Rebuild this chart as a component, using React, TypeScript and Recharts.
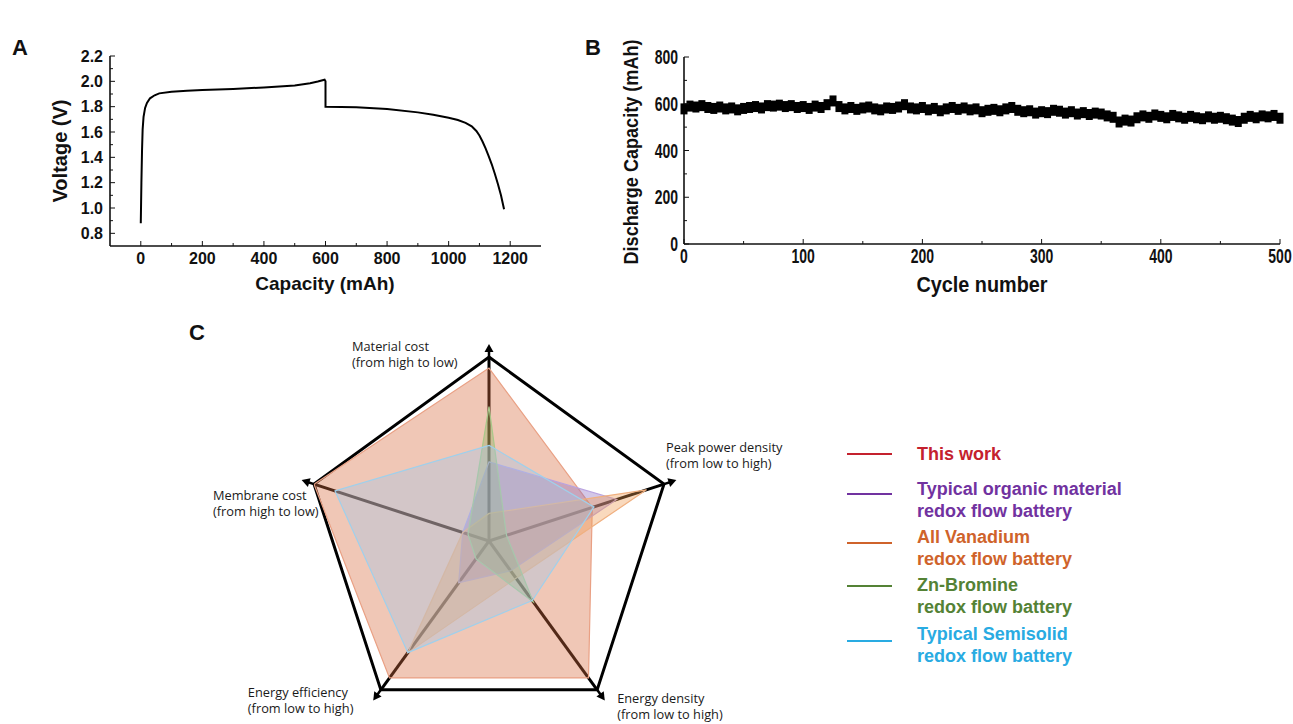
import {
  Line,
  LineChart,
  PolarAngleAxis,
  PolarGrid,
  PolarRadiusAxis,
  Radar,
  RadarChart,
  Scatter,
  ScatterChart,
  XAxis,
  YAxis,
} from 'recharts'

// ---- panel A: charge / discharge curve ----
const capacityMah = [
  0, 2, 4, 6, 9, 14, 20, 30, 45, 60, 100, 150, 200, 300, 400, 450, 500, 550, 575, 597, 600, 600, 650, 700,
  800, 900, 950, 1000, 1030, 1055, 1075, 1090, 1100, 1110, 1120, 1130, 1140, 1150, 1160, 1170, 1180,
]
const voltageV = [
  0.88, 1.2, 1.45, 1.62, 1.72, 1.79, 1.83, 1.866, 1.89, 1.905, 1.918, 1.925, 1.932, 1.94, 1.952, 1.96, 1.968,
  1.985, 1.998, 2.013, 2.0, 1.8, 1.797, 1.795, 1.782, 1.755, 1.737, 1.712, 1.695, 1.672, 1.645, 1.608, 1.572,
  1.525, 1.47, 1.41, 1.345, 1.27, 1.19, 1.1, 0.99,
]
const capacityTicks = [0, 200, 400, 600, 800, 1000, 1200]
const capacityMinorTicks = [100, 300, 500, 700, 900, 1100]
const voltageTicks = [0.8, 1.0, 1.2, 1.4, 1.6, 1.8, 2.0, 2.2]
const voltageMinorTicks = [0.9, 1.1, 1.3, 1.5, 1.7, 1.9, 2.1]

// ---- panel B: cycling ----
const cycles = [
  0, 5, 10, 15, 20, 25, 30, 35, 40, 45, 50, 55, 60, 65, 70, 75, 80, 85, 90, 95, 100, 105, 110, 115, 120, 125,
  130, 135, 140, 145, 150, 155, 160, 165, 170, 175, 180, 185, 190, 195, 200, 205, 210, 215, 220, 225, 230, 235,
  240, 245, 250, 255, 260, 265, 270, 275, 280, 285, 290, 295, 300, 305, 310, 315, 320, 325, 330, 335, 340, 345,
  350, 355, 360, 365, 370, 375, 380, 385, 390, 395, 400, 405, 410, 415, 420, 425, 430, 435, 440, 445, 450, 455,
  460, 465, 470, 475, 480, 485, 490, 495, 500,
]
const dischargeMah = [
  578, 590, 586, 592, 584, 580, 586, 578, 582, 574, 580, 584, 588, 582, 592, 590, 594, 588, 592, 584, 588, 580,
  590, 584, 596, 612, 588, 578, 584, 576, 582, 586, 578, 574, 582, 580, 586, 596, 582, 578, 584, 574, 580, 570,
  578, 584, 576, 582, 574, 578, 566, 572, 576, 570, 578, 584, 572, 566, 570, 560, 566, 562, 572, 568, 560, 566,
  556, 562, 554, 560, 556, 548, 542, 522, 530, 526, 540, 548, 542, 552, 546, 540, 550, 544, 538, 546, 540, 536,
  544, 538, 542, 536, 530, 524, 538, 546, 540, 548, 544, 550, 538,
]
const cycleTicks = [0, 100, 200, 300, 400, 500]
const cycleMinorTicks = [50, 150, 250, 350, 450]
const dischargeTicks = [0, 200, 400, 600, 800]
const dischargeMinorTicks = [100, 300, 500, 700]

// ---- panel C: radar ----
const radarAxes = ['Material cost', 'Peak power density', 'Energy density', 'Energy efficiency', 'Membrane cost']
const radarNotes = [
  '(from high to low)',
  '(from low to high)',
  '(from low to high)',
  '(from low to high)',
  '(from high to low)',
]
const thisWork = [0.94, 0.59, 0.92, 0.92, 1.0]
const organic = [0.43, 0.73, 0.2, 0.28, 0.15]
const vanadium = [0.15, 0.9, 0.25, 0.75, 0.15]
const znBromine = [0.73, 0.1, 0.41, 0.12, 0.12]
const semisolid = [0.52, 0.6, 0.4, 0.75, 0.88]

const curveData = capacityMah.map((cap, i) => ({ cap, v: voltageV[i] }))
const cycleData = cycles.map((cycle, i) => ({ cycle, cap: dischargeMah[i] }))
const radarData = radarAxes.map((axis, i) => ({
  axis,
  thisWork: thisWork[i],
  organic: organic[i],
  vanadium: vanadium[i],
  znBromine: znBromine[i],
  semisolid: semisolid[i],
}))

const radarSeries = [
  { key: 'thisWork', name: 'This work', fill: '#d86c40', stroke: '#e9a084', legend: '#c4212e' },
  { key: 'organic', name: 'Typical organic material|redox flow battery', fill: '#8c6cc0', stroke: '#b9a3e0', legend: '#7132a0' },
  { key: 'vanadium', name: 'All Vanadium|redox flow battery', fill: '#ef9a52', stroke: '#f0b080', legend: '#cf632b' },
  { key: 'znBromine', name: 'Zn-Bromine|redox flow battery', fill: '#8fb060', stroke: '#a9c88a', legend: '#548235' },
  { key: 'semisolid', name: 'Typical Semisolid|redox flow battery', fill: '#a4c4e5', stroke: '#9fd0ec', legend: '#29abe2' },
]

const boldSans = "'Liberation Sans', Arial, sans-serif"
const frameLine = { stroke: '#111', strokeWidth: 1.6 }

type Side = 'bottom' | 'left' | 'top' | 'right'

function frameTick(side: Side, majors: number[], gap: number, font?: { size: number; digits: number; squeeze: number }) {
  return (props: any) => {
    const { x, y, payload } = props
    const v = payload.value
    const major = majors.includes(v)
    const len = major ? 5 : 3
    let line = null
    let label = null
    if (side === 'bottom') {
      line = <line x1={x} x2={x} y1={y - gap} y2={y - gap - len} stroke="#111" strokeWidth={1} />
      if (font && major)
        label = (
          <text
            transform={`translate(${x},${y}) scale(${font.squeeze},1)`}
            dy="0.78em"
            textAnchor="middle"
            fontFamily={boldSans}
            fontWeight="bold"
            fontSize={font.size}
            fill="#111"
          >
            {v.toFixed(font.digits)}
          </text>
        )
    } else if (side === 'left') {
      line = <line x1={x + gap} x2={x + gap + len} y1={y} y2={y} stroke="#111" strokeWidth={1} />
      if (font && major)
        label = (
          <text
            transform={`translate(${x},${y}) scale(${font.squeeze},1)`}
            dy="0.36em"
            textAnchor="end"
            fontFamily={boldSans}
            fontWeight="bold"
            fontSize={font.size}
            fill="#111"
          >
            {v.toFixed(font.digits)}
          </text>
        )
    } else if (side === 'top') {
      line = <line x1={x} x2={x} y1={y} y2={y + len} stroke="#111" strokeWidth={1} />
    } else {
      line = <line x1={x} x2={x - len} y1={y} y2={y} stroke="#111" strokeWidth={1} />
    }
    return (
      <g>
        {line}
        {label}
      </g>
    )
  }
}

const labelOffsets = [
  { dx: -137, dy: -6 },
  { dx: 2, dy: -32 },
  { dx: 20, dy: 13 },
  { dx: -133, dy: 7 },
  { dx: -101, dy: 16 },
]

function AngleTick(props: any) {
  const { x, y, payload } = props
  const index = typeof props.index === 'number' ? props.index : radarAxes.indexOf(payload.value)
  const a = (payload.coordinate * Math.PI) / 180
  const ux = Math.cos(a)
  const uy = -Math.sin(a)
  const vx = x - 8 * ux
  const vy = y - 8 * uy
  const px = -uy
  const py = ux
  const tip = 13
  const base = 5
  const hw = 4.5
  const pts = [
    [vx + tip * ux, vy + tip * uy],
    [vx + base * ux + hw * px, vy + base * uy + hw * py],
    [vx + base * ux - hw * px, vy + base * uy - hw * py],
  ]
    .map((p) => p.join(','))
    .join(' ')
  const off = labelOffsets[index]
  return (
    <g>
      <line x1={vx} y1={vy} x2={vx + 7 * ux} y2={vy + 7 * uy} stroke="#000" strokeWidth={2.5} />
      <polygon points={pts} fill="#000" />
      <text fontFamily="'Open Sans', 'Noto Sans', sans-serif" fontSize={12.8} fill="#1a1a1a">
        <tspan x={vx + off.dx} y={vy + off.dy}>
          {payload.value}
        </tspan>
        <tspan x={vx + off.dx} y={vy + off.dy + 16}>
          {radarNotes[index]}
        </tspan>
      </text>
    </g>
  )
}

function SquareMark(props: any) {
  const { cx, cy } = props
  return <rect x={cx - 3.5} y={cy - 5.5} width={7} height={11} fill="#000" />
}

const legendRows = [
  { line: 454, text: [460] },
  { line: 494, text: [495, 517] },
  { line: 543, text: [543, 565] },
  { line: 586, text: [591, 613] },
  { line: 641, text: [640, 662] },
]

export default function App() {
  return (
    <div style={{ position: 'absolute', left: 0, top: 0, width: 1293, height: 724, background: '#fff', overflow: 'hidden' }}>
      {/* A */}
      <div style={{ position: 'absolute', left: 0, top: 0 }}>
        <LineChart width={560} height={310} data={curveData} margin={{ top: 56, right: 19, bottom: 34, left: 0 }}>
          <XAxis
            type="number"
            dataKey="cap"
            domain={[-100, 1300]}
            ticks={[...capacityTicks, ...capacityMinorTicks]}
            interval={0}
            height={30}
            tickSize={0}
            tickMargin={6}
            tickLine={false}
            axisLine={frameLine}
            tick={frameTick('bottom', capacityTicks, 6, { size: 16, digits: 0, squeeze: 1 })}
          />
          <XAxis
            xAxisId="top"
            orientation="top"
            type="number"
            domain={[-100, 1300]}
            ticks={[...capacityTicks, ...capacityMinorTicks]}
            interval={0}
            height={0}
            tickSize={0}
            tickMargin={0}
            tickLine={false}
            axisLine={frameLine}
            tick={frameTick('top', capacityTicks, 0)}
          />
          <YAxis
            type="number"
            domain={[0.7, 2.2]}
            ticks={[...voltageTicks, ...voltageMinorTicks]}
            interval={0}
            width={110}
            tickSize={0}
            tickMargin={7}
            tickLine={false}
            axisLine={frameLine}
            tick={frameTick('left', voltageTicks, 7, { size: 16, digits: 1, squeeze: 1 })}
          />
          <YAxis
            yAxisId="right"
            orientation="right"
            type="number"
            domain={[0.7, 2.2]}
            ticks={[...voltageTicks, ...voltageMinorTicks]}
            interval={0}
            width={0}
            tickSize={0}
            tickMargin={0}
            tickLine={false}
            axisLine={frameLine}
            tick={frameTick('right', voltageTicks, 0)}
          />
          <Line type="linear" dataKey="v" stroke="#000" strokeWidth={2} dot={false} isAnimationActive={false} />
        </LineChart>
      </div>

      {/* B */}
      <div style={{ position: 'absolute', left: 580, top: 30 }}>
        <ScatterChart width={713} height={290} margin={{ top: 27, right: 13, bottom: 46, left: 0 }}>
          <XAxis
            type="number"
            dataKey="cycle"
            domain={[0, 500]}
            ticks={[...cycleTicks, ...cycleMinorTicks]}
            interval={0}
            height={30}
            tickSize={0}
            tickMargin={3}
            tickLine={false}
            axisLine={frameLine}
            tick={frameTick('bottom', cycleTicks, 3, { size: 20, digits: 0, squeeze: 0.7 })}
          />
          <XAxis
            xAxisId="top"
            orientation="top"
            type="number"
            domain={[0, 500]}
            ticks={[...cycleTicks, ...cycleMinorTicks]}
            interval={0}
            height={0}
            tickSize={0}
            tickMargin={0}
            tickLine={false}
            axisLine={frameLine}
            tick={frameTick('top', cycleTicks, 0)}
          />
          <YAxis
            type="number"
            dataKey="cap"
            domain={[0, 800]}
            ticks={[...dischargeTicks, ...dischargeMinorTicks]}
            interval={0}
            width={104}
            tickSize={0}
            tickMargin={6}
            tickLine={false}
            axisLine={frameLine}
            tick={frameTick('left', dischargeTicks, 6, { size: 20, digits: 0, squeeze: 0.7 })}
          />
          <YAxis
            yAxisId="right"
            orientation="right"
            type="number"
            domain={[0, 800]}
            ticks={[...dischargeTicks, ...dischargeMinorTicks]}
            interval={0}
            width={0}
            tickSize={0}
            tickMargin={0}
            tickLine={false}
            axisLine={frameLine}
            tick={frameTick('right', dischargeTicks, 0)}
          />
          <Scatter data={cycleData} shape={SquareMark} isAnimationActive={false} />
        </ScatterChart>
      </div>

      {/* C */}
      <div style={{ position: 'absolute', left: 200, top: 300 }}>
        <RadarChart
          width={640}
          height={424}
          cx={289}
          cy={241}
          outerRadius={184}
          data={radarData}
          startAngle={90}
          endAngle={-270}
          margin={{ top: 0, right: 0, bottom: 0, left: 0 }}
        >
          <PolarGrid gridType="polygon" polarRadius={[184]} stroke="#000" strokeWidth={3} />
          <PolarRadiusAxis domain={[0, 1]} angle={90} tick={false} axisLine={false} />
          <PolarAngleAxis dataKey="axis" tick={AngleTick} tickSize={8} tickLine={false} axisLine={false} />
          {radarSeries.map((s) => (
            <Radar
              key={s.key}
              name={s.name}
              dataKey={s.key}
              stroke={s.stroke}
              strokeWidth={1.2}
              fill={s.fill}
              fillOpacity={0.38}
              dot={false}
              isAnimationActive={false}
            />
          ))}
        </RadarChart>
      </div>

      {/* titles and legend */}
      <svg width={1293} height={724} style={{ position: 'absolute', left: 0, top: 0, pointerEvents: 'none' }}>
        <g fontFamily={boldSans} fontWeight="bold" fill="#111">
          <text x={12} y={55} fontSize={22}>A</text>
          <text x={585} y={55} fontSize={22}>B</text>
          <text x={189} y={340} fontSize={22}>C</text>
          <text x={325} y={290} fontSize={19} textAnchor="middle">Capacity (mAh)</text>
          <text x={67} y={151} fontSize={20} textAnchor="middle" transform="rotate(-90 67 151)">Voltage (V)</text>
          <text x={982} y={292} fontSize={22} textAnchor="middle" textLength={131} lengthAdjust="spacingAndGlyphs">
            Cycle number
          </text>
          <text
            x={638}
            y={152}
            fontSize={21}
            textAnchor="middle"
            textLength={225}
            lengthAdjust="spacingAndGlyphs"
            transform="rotate(-90 638 152)"
          >
            Discharge Capacity (mAh)
          </text>
        </g>
        <g fontFamily={boldSans} fontWeight="bold" fontSize={18}>
          {radarSeries.map((s, i) => (
            <g key={s.key}>
              <line x1={847} x2={892} y1={legendRows[i].line} y2={legendRows[i].line} stroke={s.legend} strokeWidth={2} />
              {s.name.split('|').map((t, j) => (
                <text key={j} x={917} y={legendRows[i].text[j]} fill={s.legend}>
                  {t}
                </text>
              ))}
            </g>
          ))}
        </g>
      </svg>
    </div>
  )
}
